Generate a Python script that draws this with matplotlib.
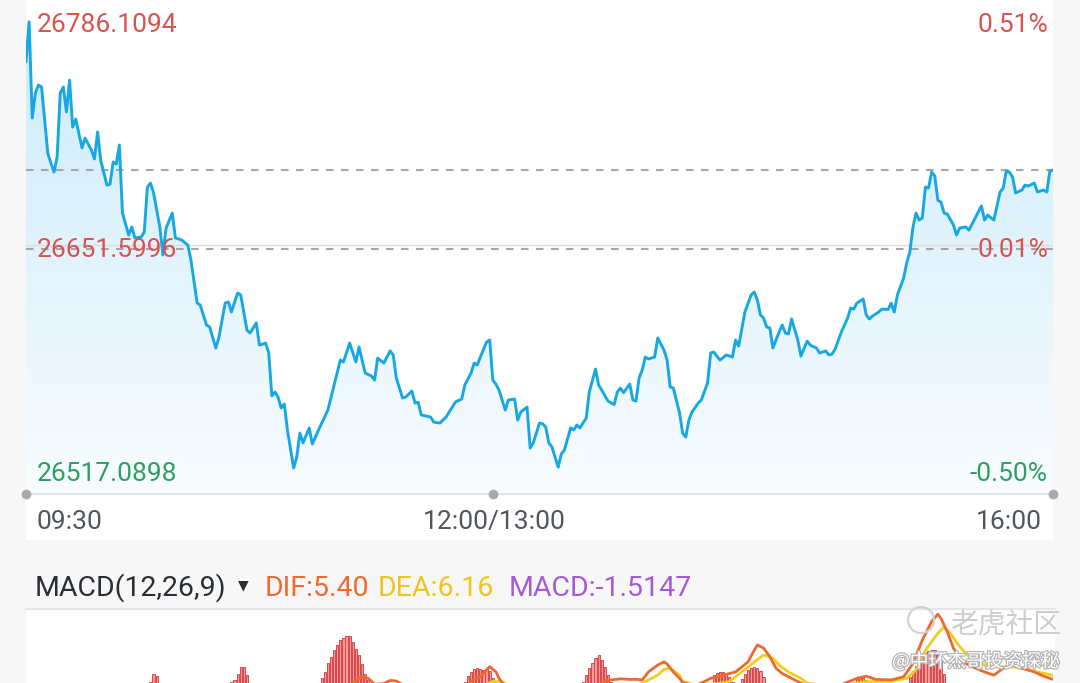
import numpy as np
import matplotlib
matplotlib.use('Agg')
import matplotlib.pyplot as plt
from matplotlib.patches import Rectangle, Circle, Polygon
from matplotlib.transforms import IdentityTransform
import matplotlib.patheffects as pe

# ---------------- data ----------------
# minute index (0 = 09:30, 150 = 12:00/13:00, 330 = 16:00)
minutes = [0, 1, 2, 3, 4, 5, 7, 8, 9, 10, 11, 12, 13, 14, 15, 16, 18, 19, 21, 22, 23, 24, 26, 27, 28, 29, 30,
           31, 33, 34, 35, 37, 38, 39, 40, 41, 43, 44, 45, 47, 48, 50, 52, 53, 55, 56, 58, 59, 61, 62, 64, 65,
           66, 68, 69, 71, 72, 74, 75, 77, 78, 79, 80, 81, 82, 83, 84, 86, 87, 88, 89, 91, 92, 94, 97, 99,
           101, 102, 104, 106, 107, 109, 111, 112, 113, 115, 117, 118, 119, 121, 122, 124, 125, 126, 127,
           130, 131, 133, 135, 137, 138, 140, 141, 143, 144, 145, 146, 148, 149, 150, 151, 152, 154, 155,
           157, 158, 159, 161, 162, 163, 165, 166, 167, 168, 169, 171, 172, 173, 175, 176, 177, 178, 180,
           181, 183, 184, 185, 187, 189, 190, 191, 192, 194, 195, 196, 197, 198, 199, 200, 202, 203, 205,
           206, 207, 208, 210, 211, 212, 213, 214, 216, 217, 219, 220, 221, 223, 225, 227, 228, 229, 231,
           233, 234, 235, 236, 237, 238, 239, 240, 242, 243, 244, 245, 246, 248, 249, 251, 252, 254, 255,
           257, 258, 259, 260, 262, 264, 265, 266, 267, 269, 270, 271, 272, 274, 275, 277, 278, 279, 280,
           282, 283, 284, 285, 286, 287, 288, 289, 290, 291, 292, 293, 294, 295, 296, 298, 299, 300, 302,
           303, 305, 307, 308, 309, 311, 313, 314, 315, 316, 317, 318, 320, 321, 322, 324, 325, 326, 327,
           328, 329, 330]
prices = [26753.5, 26775.3, 26722.7, 26736.3, 26740.7, 26739.6, 26703.5, 26698.1, 26693.1, 26701.3,
          26736.3, 26739.6, 26726.0, 26743.4, 26717.7, 26722.1, 26706.3, 26711.7, 26705.2, 26700.3,
          26715.0, 26699.7, 26686.0, 26686.5, 26698.6, 26697.5, 26707.9, 26670.7, 26658.7, 26663.1,
          26657.1, 26657.6, 26660.3, 26684.9, 26687.1, 26681.7, 26663.1, 26647.8, 26662.5, 26670.7,
          26657.1, 26656.0, 26653.2, 26645.0, 26621.5, 26620.4, 26609.5, 26608.4, 26596.9, 26602.9,
          26621.5, 26622.1, 26616.6, 26627.0, 26625.9, 26606.7, 26605.1, 26610.6, 26598.5, 26599.6,
          26594.2, 26570.7, 26572.8, 26570.1, 26564.1, 26566.3, 26552.1, 26531.3, 26537.3, 26550.4,
          26545.0, 26553.2, 26544.4, 26552.1, 26563.0, 26576.7, 26590.3, 26589.3, 26599.6, 26589.3,
          26597.5, 26583.2, 26581.6, 26579.4, 26591.4, 26588.7, 26595.3, 26593.1, 26580.5, 26569.6,
          26570.1, 26573.4, 26566.8, 26567.3, 26560.3, 26559.2, 26556.4, 26555.9, 26559.2, 26564.6,
          26567.4, 26569.0, 26576.7, 26583.2, 26588.7, 26587.6, 26592.0, 26600.2, 26601.3, 26579.4,
          26577.2, 26573.9, 26563.0, 26568.5, 26569.0, 26557.5, 26561.9, 26564.6, 26542.2, 26545.0,
          26555.9, 26555.5, 26553.7, 26545.0, 26542.8, 26531.8, 26538.9, 26541.1, 26553.2, 26552.1,
          26554.8, 26553.2, 26558.6, 26572.8, 26585.4, 26576.7, 26573.9, 26567.9, 26566.0, 26572.8,
          26575.0, 26572.5, 26577.2, 26568.5, 26567.9, 26580.5, 26584.9, 26592.0, 26590.9, 26592.0,
          26602.4, 26595.8, 26590.3, 26575.6, 26575.0, 26561.4, 26550.4, 26548.2, 26557.5, 26561.9,
          26566.8, 26568.5, 26577.8, 26594.2, 26594.7, 26590.3, 26593.1, 26592.0, 26601.3, 26598.0,
          26616.6, 26625.9, 26627.5, 26623.2, 26615.0, 26613.3, 26608.4, 26607.9, 26596.9, 26605.7,
          26609.5, 26605.1, 26604.6, 26612.8, 26601.3, 26592.5, 26600.7, 26598.5, 26596.9, 26594.2,
          26595.3, 26593.1, 26593.6, 26596.4, 26605.7, 26613.3, 26618.8, 26618.2, 26621.5, 26623.7,
          26615.0, 26612.8, 26614.4, 26616.6, 26618.2, 26618.0, 26621.5, 26616.6, 26625.9, 26635.2,
          26643.4, 26649.4, 26663.1, 26670.7, 26666.9, 26668.0, 26684.9, 26684.4, 26693.1, 26691.0,
          26677.8, 26676.7, 26670.7, 26670.2, 26664.2, 26658.7, 26662.5, 26663.1, 26661.4, 26668.0,
          26674.6, 26666.9, 26669.6, 26666.9, 26682.2, 26684.4, 26693.7, 26693.1, 26690.4, 26681.7,
          26683.3, 26686.0, 26685.5, 26687.1, 26682.2, 26682.8, 26683.3, 26682.2, 26693.7, 26694.2]

price_max = 26786.1094
price_mid = 26651.5996
price_min = 26517.0898
pct_labels = ['0.51%', '0.01%', '-0.50%']
prev_close_line = 26651.0
mid_grid = 26653.2
time_labels = ['09:30', '12:00/13:00', '16:00']
time_ticks = [0, 150, 330]

# MACD histogram (visible positive part only)
hist_minutes = [40, 41, 42, 66, 67, 68, 69, 70, 71,
                95, 96, 97, 98, 99, 100, 101, 102, 103, 104, 105, 106, 107, 108, 109, 110,
                141, 142, 143, 144, 145, 146, 147, 148, 149, 150,
                179, 180, 181, 182, 183, 184, 185, 186, 187, 188,
                221, 222, 223, 224, 225, 226, 227,
                230, 231, 232, 233, 234, 235, 236, 237,
                266, 267, 268, 269, 270,
                284, 285, 286, 287, 288, 289, 290, 291, 292, 293, 294, 295]
hist_values = [5.0, 6.5, 6.0, 4.9, 5.2, 6.5, 7.8, 7.8, 6.2,
               5.7, 6.8, 8.4, 9.7, 10.9, 11.9, 12.9, 13.2, 13.5, 13.6, 12.4, 11.2, 10.0, 8.3, 6.5, 5.2,
               4.9, 6.0, 6.8, 7.4, 7.5, 7.3, 7.2, 7.4, 6.9, 5.7,
               5.0, 6.2, 7.5, 8.5, 9.5, 10.0, 9.1, 7.8, 6.2, 5.0,
               6.2, 6.6, 6.8, 6.8, 6.4, 5.8, 5.0,
               5.5, 6.5, 7.2, 7.6, 7.8, 7.6, 7.0, 5.8,
               5.0, 5.6, 5.8, 5.7, 5.2,
               5.9, 7.0, 8.0, 9.0, 9.8, 10.3, 10.8, 10.9, 10.9, 10.4, 8.8, 6.5]

dif_minutes = [0, 40, 80, 95, 100, 104, 106, 108, 110, 112, 115, 117, 119, 121, 130, 140, 143, 146, 148,
               149, 151, 152, 153, 160, 170, 180, 185, 188, 191, 194, 196, 198, 200, 203, 205, 206, 208,
               210, 211, 215, 218, 220, 224, 228, 232, 234, 235, 237, 239, 241, 243, 246, 249, 255, 262,
               267, 270, 273, 278, 282, 285, 288, 291, 293, 294, 296, 298, 301, 304, 308, 311, 314, 317,
               320, 324, 327, 330]
dif_values = [0.0, -4.0, -8.0, -2.0, 2.5, 4.2, 5.0, 6.0, 5.6, 4.5, 4.6, 5.2, 5.1, 4.4, 1.0, 3.5, 5.0, 5.9,
              7.2, 7.8, 6.8, 5.6, 4.8, 1.0, -2.0, 2.0, 4.9, 5.3, 5.5, 5.4, 5.4, 5.3, 6.8, 8.1, 8.7, 8.3,
              6.8, 5.6, 4.8, 4.2, 5.0, 5.6, 6.2, 6.8, 8.7, 10.9, 11.9, 11.3, 9.7, 7.5, 6.5, 5.6, 4.7, 3.5,
              4.4, 5.6, 6.0, 5.4, 5.3, 5.9, 8.4, 12.8, 16.3, 17.7, 16.9, 14.4, 11.3, 8.7, 7.8, 6.8, 6.2,
              7.5, 8.1, 7.5, 6.8, 6.0, 5.4]
dea_minutes = [0, 60, 100, 130, 145, 150, 152, 155, 170, 190, 197, 199, 203, 205, 207, 210, 211, 214, 222,
               226, 230, 235, 237, 240, 242, 245, 249, 251, 260, 270, 278, 283, 286, 289, 293, 295, 297,
               300, 303, 308, 312, 316, 320, 325, 330]
dea_values = [0.0, -4.0, -1.0, 2.5, 3.8, 5.0, 5.0, 4.4, 1.0, 3.5, 4.5, 5.0, 6.2, 7.3, 7.5, 6.2, 5.0, 4.5,
              4.6, 5.0, 6.8, 9.1, 10.0, 9.4, 8.1, 6.8, 5.6, 4.7, 4.0, 5.0, 5.0, 5.6, 7.2, 10.9, 14.1, 15.3,
              14.1, 11.6, 9.7, 8.1, 7.8, 7.8, 7.5, 6.8, 6.16]

# ---------------- figure ----------------
W, H = 1080, 683
fig = plt.figure(figsize=(W / 100, H / 100), dpi=100)
fig.patch.set_facecolor('#f7f7f7')
plt.rcParams['font.family'] = ['Roboto', 'DejaVu Sans']


def fx(x):
    return x / W


def fy(y):
    return 1 - y / H


# white panels
fig.add_artist(Rectangle((fx(26), fy(540)), (1053 - 26) / W, 540 / H, transform=fig.transFigure,
                         facecolor='white', edgecolor='none', zorder=0))
fig.add_artist(Rectangle((fx(26), 0), (1055 - 26) / W, (683 - 610) / H, transform=fig.transFigure,
                         facecolor='white', edgecolor='none', zorder=0))
fig.add_artist(plt.Line2D([fx(26), fx(1055)], [fy(608.5), fy(608.5)], transform=fig.transFigure,
                          color='#e3e3e3', lw=1.2, zorder=1))

# ---------------- price panel ----------------
ax = fig.add_axes([fx(26), fy(494), (1053 - 26) / W, (494 - 2) / H])
ax.set_xlim(0, 330)
ax.set_ylim(price_min, price_max)
ax.axis('off')
ax.patch.set_alpha(0)

top_c = np.array([0.79, 0.92, 0.985])
bot_c = np.array([0.975, 0.988, 1.0])
t = np.linspace(0, 1, 256).reshape(-1, 1, 1)
grad = top_c * (1 - t) + bot_c * t
grad = np.repeat(grad, 2, axis=1)
im = ax.imshow(grad, extent=[0, 330, price_min, price_max], aspect='auto', origin='upper', zorder=1,
               interpolation='bilinear')
poly = Polygon(list(zip(minutes, prices)) + [(minutes[-1], price_min), (minutes[0], price_min)],
               closed=True, transform=ax.transData, facecolor='none', edgecolor='none')
ax.add_patch(poly)
im.set_clip_path(poly)

ax.axhline(mid_grid, color='#dddddd', lw=1.0, zorder=2)
ax.axhline(prev_close_line, color='#a6a6a6', lw=1.5, linestyle=(0, (3.6, 3.6)), zorder=2)
ax.axhline(prices[-1], color='#a6a6a6', lw=1.5, linestyle=(0, (3.6, 3.6)), zorder=2)
ax.axhline(price_min, color='#e2e2e2', lw=1.5, zorder=2, clip_on=False)
ax.plot(time_ticks, [price_min] * 3, 'o', color='#a9a9a9', ms=6, zorder=3, clip_on=False)

ax.plot(minutes, prices, color='#17a8e3', lw=2.1, zorder=4, solid_joinstyle='round')

red = '#d9534f'
green = '#2e9e64'
fs = 19
fig.text(fx(37), fy(32), f'{price_max:.4f}', color=red, fontsize=fs, va='baseline', ha='left')
fig.text(fx(37), fy(257), f'{price_mid:.4f}', color=red, fontsize=fs, va='baseline', ha='left', zorder=5)
fig.text(fx(37), fy(481), f'{price_min:.4f}', color=green, fontsize=fs, va='baseline', ha='left')
fig.text(fx(1048), fy(32), pct_labels[0], color=red, fontsize=fs, va='baseline', ha='right')
fig.text(fx(1048), fy(257), pct_labels[1], color=red, fontsize=fs, va='baseline', ha='right', zorder=5)
fig.text(fx(1048), fy(481), pct_labels[2], color=green, fontsize=fs, va='baseline', ha='right')

tc = '#51565d'
fig.text(fx(37), fy(529), time_labels[0], color=tc, fontsize=fs, va='baseline', ha='left')
fig.text(fx(494), fy(529), time_labels[1], color=tc, fontsize=fs, va='baseline', ha='center')
fig.text(fx(1042), fy(529), time_labels[2], color=tc, fontsize=fs, va='baseline', ha='right')

# ---------------- MACD header ----------------
hfs = 20.5
fig.text(fx(35), fy(596), 'MACD(12,26,9)', color='#2a2e35', fontsize=hfs, va='baseline')
fig.text(fx(243), fy(585), '▼', color='#2a2e35', fontsize=10, va='center', ha='center',
         family='DejaVu Sans')
fig.text(fx(265), fy(596), 'DIF:5.40', color='#ee6a2e', fontsize=hfs, va='baseline')
fig.text(fx(378), fy(596), 'DEA:6.16', color='#eec51c', fontsize=hfs, va='baseline')
fig.text(fx(509), fy(596), 'MACD:-1.5147', color='#a65ad8', fontsize=hfs, va='baseline')

# ---------------- MACD panel ----------------
v_top = (708 - 610) / 5.3
v_bot = (708 - 683) / 5.3
mx = fig.add_axes([fx(26), 0, (1053 - 26) / W, (683 - 610) / H])
mx.set_xlim(0, 330)
mx.set_ylim(v_bot, v_top)
mx.axis('off')
mx.patch.set_alpha(0)
mx.bar(hist_minutes, hist_values, width=0.72, color='#f79a9a', edgecolor='#d8474c', linewidth=0.7, zorder=2)
mx.plot(dea_minutes, dea_values, color='#f2cd1d', lw=2.0, zorder=3)
mx.plot(dif_minutes, dif_values, color='#ec6a2f', lw=2.0, zorder=4)

# ---------------- watermark ----------------
ident = IdentityTransform()
fig.add_artist(Circle((921, H - 620), 13, transform=ident, facecolor='none', edgecolor='#d2d2d2',
                      lw=1.6, zorder=6))
fig.text(fx(950), fy(633), '老虎社区', color='#cdcdcd', fontsize=20, va='baseline', ha='left',
         family=['Noto Sans CJK SC', 'DejaVu Sans'], zorder=6, style='italic')
fig.text(fx(892), fy(667), '@中环杰哥投资探秘', color='white', fontsize=13.5, va='baseline', ha='left',
         family=['Noto Sans CJK SC', 'DejaVu Sans'], zorder=6,
         path_effects=[pe.withStroke(linewidth=1.8, foreground='#b5b5b5')])

fig.savefig('out.png', dpi=100, facecolor=fig.get_facecolor())
